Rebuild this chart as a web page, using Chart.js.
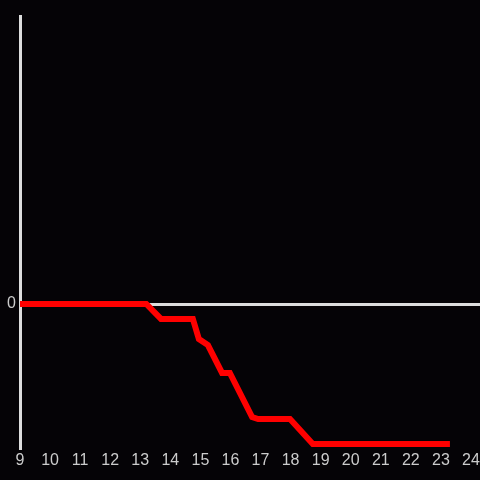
<!DOCTYPE html>
<html>
<head>
<meta charset="utf-8">
<script src="https://cdn.jsdelivr.net/npm/chart.js@4"></script>
<style>
  html, body { margin: 0; padding: 0; background: #050306; }
  #wrap { width: 480px; height: 480px; }
</style>
</head>
<body>
<div id="wrap"><canvas id="chart"></canvas></div>
<script>
// values
const xValues = [9, 13.2, 13.69, 14.75, 14.95, 15.25, 15.72, 15.98, 16.72, 16.92, 17.98, 18.74, 23.3];
const yValues = [0, 0, -0.104, -0.104, -0.243, -0.285, -0.479, -0.479, -0.785, -0.799, -0.799, -0.972, -0.972];
const xTicks = [9, 10, 11, 12, 13, 14, 15, 16, 17, 18, 19, 20, 21, 22, 23, 24];
const yTicks = [0];

const points = xValues.map((x, i) => ({ x: x, y: yValues[i] }));

const ctx = document.querySelector('#chart').getContext('2d');

new Chart(ctx, {
  type: 'line',
  data: {
    datasets: [{
      data: points,
      borderColor: '#ff0000',
      borderWidth: 6,
      pointRadius: 0,
      tension: 0,
      fill: false
    }]
  },
  options: {
    responsive: true,
    maintainAspectRatio: false,
    animation: false,
    layout: { padding: { top: 16, right: 0, left: 0, bottom: 0 } },
    plugins: { legend: { display: false }, tooltip: { enabled: false } },
    scales: {
      x: {
        type: 'linear',
        min: 9,
        max: 24.3,
        afterBuildTicks: (axis) => { axis.ticks = xTicks.map(v => ({ value: v })); },
        afterFit: (axis) => {
          axis.height = 32;
          axis.paddingLeft = 0;
          axis.paddingRight = 0;
        },
        grid: { display: false, drawTicks: false },
        border: { display: false },
        ticks: {
          color: '#cccccc',
          font: { family: 'Liberation Sans', size: 16 },
          padding: 3,
          maxRotation: 0,
          autoSkip: false
        }
      },
      y: {
        min: -1,
        max: 2,
        afterBuildTicks: (axis) => { axis.ticks = yTicks.map(v => ({ value: v })); },
        afterFit: (axis) => {
          axis.width = 20;
          axis.paddingTop = 0;
          axis.paddingBottom = 0;
        },
        grid: { color: '#dddddd', lineWidth: 3, drawTicks: false },
        border: { display: true, color: '#dddddd', width: 3 },
        ticks: {
          color: '#cccccc',
          font: { family: 'Liberation Sans', size: 16 },
          padding: 4
        }
      }
    }
  },
  plugins: [{
    id: 'bg',
    beforeDraw: (chart) => {
      const c = chart.ctx;
      c.save();
      c.fillStyle = '#050306';
      c.fillRect(0, 0, chart.width, chart.height);
      c.restore();
    }
  }]
});
</script>
</body>
</html>
